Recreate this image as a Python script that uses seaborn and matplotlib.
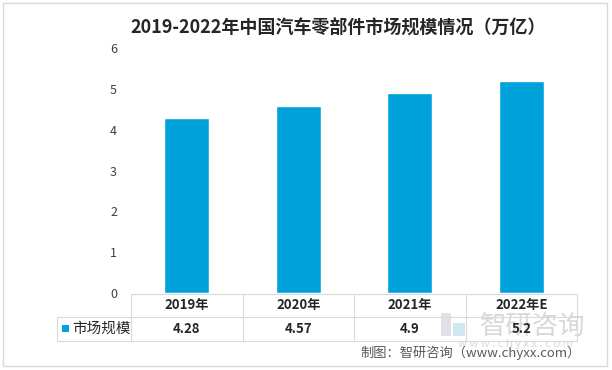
import matplotlib
matplotlib.use("Agg")
import matplotlib.pyplot as plt
import seaborn as sns
import pandas as pd
from matplotlib.lines import Line2D
from matplotlib.patches import Rectangle

categories = ["2019年", "2020年", "2021年", "2022年E"]
values = [4.28, 4.57, 4.9, 5.2]
value_labels = ["4.28", "4.57", "4.9", "5.2"]
series_name = "市场规模"
yticks = [0, 1, 2, 3, 4, 5, 6]
title = "2019-2022年中国汽车零部件市场规模情况（万亿）"
source = "制图：智研咨询（www.chyxx.com）"

sns.set_theme(style="white")
plt.rcParams['font.family'] = ['Noto Sans CJK SC', 'DejaVu Sans']

W, H = 612, 370
fig = plt.figure(figsize=(W / 100, H / 100), dpi=100)
color = "#00A2DB"

def fx(px):
    return px / W

def fy(py):
    return 1 - py / H

left, right, top, bottom = 131, 577, 48, 293
ax = fig.add_axes([fx(left), fy(bottom), fx(right - left), fy(top) - fy(bottom)])
df = pd.DataFrame({"cat": categories, "val": values})
sns.barplot(data=df, x="cat", y="val", color=color, width=0.4, saturation=1, ax=ax)
ax.set_ylim(0, 6)
ax.set_xlim(-0.5, 3.5)
ax.set_yticks(yticks)
ax.set_yticklabels([str(t) for t in yticks], fontsize=9, color="#404040")
ax.tick_params(axis="y", length=0, pad=10)
ax.set_xticks([])
ax.set_xlabel("")
ax.set_ylabel("")
for s in ax.spines.values():
    s.set_visible(False)

# outer border
fig.add_artist(Rectangle((fx(3), fy(366)), fx(604), fy(3) - fy(366), transform=fig.transFigure,
                         fill=False, edgecolor="#D9D9D9", linewidth=1))

# title
fig.text(fx(338), fy(27), title, ha="center", va="center", fontsize=13, fontweight="bold", color="#262626")

# watermark (behind table)
fig.add_artist(Rectangle((fx(441), fy(336)), fx(10), fy(313) - fy(336), transform=fig.transFigure,
                         facecolor="#D0D5DA", edgecolor="none", alpha=0.7, zorder=0))
fig.add_artist(Rectangle((fx(453), fy(336)), fx(12), fy(323) - fy(336), transform=fig.transFigure,
                         facecolor="#BFDDF0", edgecolor="none", alpha=0.7, zorder=0))
fig.text(fx(533), fy(326), "智研咨询", ha="center", va="center", fontsize=19, color="#C8C8C8",
         alpha=0.7, zorder=0)
fig.text(fx(515), fy(344), "w w w . c h y x x . c o m", ha="center", va="center", fontsize=8,
         color="#C8C8C8", alpha=0.7, zorder=0)

# data table
lc = "#D9D9D9"
row0, row1, row2 = 294, 317, 341
tab_left = 57
fig.add_artist(Line2D([fx(left), fx(right)], [fy(row0)] * 2, color=lc, lw=0.8, transform=fig.transFigure))
fig.add_artist(Line2D([fx(tab_left), fx(right)], [fy(row1)] * 2, color=lc, lw=0.8, transform=fig.transFigure))
fig.add_artist(Line2D([fx(tab_left), fx(right)], [fy(row2)] * 2, color=lc, lw=0.8, transform=fig.transFigure))
fig.add_artist(Line2D([fx(tab_left)] * 2, [fy(row1), fy(row2)], color=lc, lw=0.8, transform=fig.transFigure))
colw = (right - left) / len(categories)
for i in range(len(categories) + 1):
    x = left + i * colw
    fig.add_artist(Line2D([fx(x)] * 2, [fy(row0), fy(row2)], color=lc, lw=0.8, transform=fig.transFigure))
for i, (c, v) in enumerate(zip(categories, value_labels)):
    cx = left + (i + 0.5) * colw
    fig.text(fx(cx), fy((row0 + row1) / 2), c, ha="center", va="center", fontsize=9.5, fontweight="bold", color="#262626")
    fig.text(fx(cx), fy((row1 + row2) / 2), v, ha="center", va="center", fontsize=9.5, fontweight="bold", color="#262626")
fig.add_artist(Rectangle((fx(62), fy(332)), fx(7), fy(325) - fy(332), transform=fig.transFigure,
                         facecolor=color, edgecolor="none"))
fig.text(fx(72), fy((row1 + row2) / 2), series_name, ha="left", va="center", fontsize=10.5, color="#262626")

# source
fig.text(fx(581), fy(353), source, ha="right", va="center", fontsize=9.5, color="#595959")

fig.savefig("out.png", dpi=100)
